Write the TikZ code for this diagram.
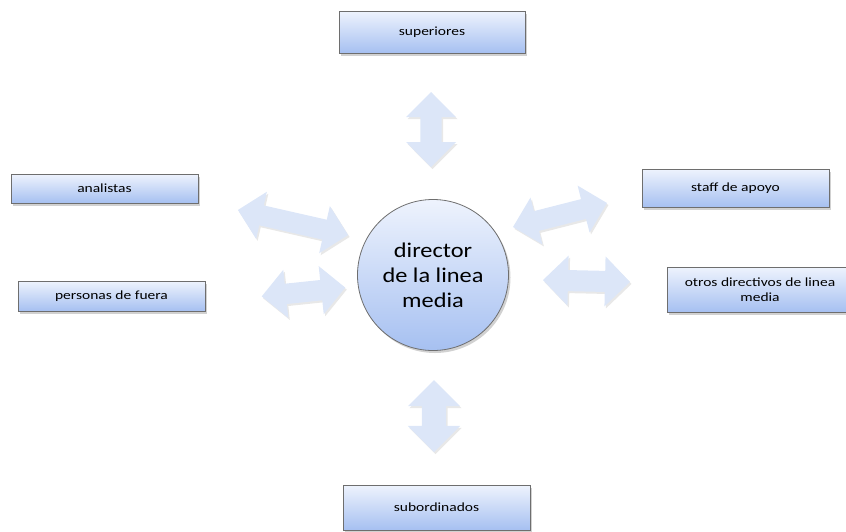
\documentclass[tikz,border=0pt]{standalone}
\usepackage{fontspec}
\setmainfont{Carlito}
\newfontfamily\widelabel[FakeStretch=1.24]{Carlito}
\newfontfamily\hublabel[FakeStretch=1.16]{Carlito}
\usetikzlibrary{shapes.arrows,shadows}

\definecolor{boxtop}{HTML}{EEF3FD}
\definecolor{boxbot}{HTML}{A6C0F1}
\definecolor{rimgray}{HTML}{6E6E6E}
\definecolor{arrowfill}{HTML}{DCE6F8}

\tikzset{
  softshadow/.style={drop shadow={shadow xshift=2pt, shadow yshift=-2.5pt, opacity=0.3, fill=black!60}},
  rolebox/.style={draw=rimgray, line width=0.7pt, top color=boxtop, bottom color=boxbot,
    font=\widelabel\fontsize{12.5}{15}\selectfont, align=center, inner sep=0pt, softshadow},
  hub/.style={circle, draw=rimgray, line width=0.8pt, top color=boxtop, bottom color=boxbot,
    font=\hublabel\fontsize{21}{25}\selectfont, align=center, inner sep=0pt, minimum size=151pt, softshadow},
  flow/.style={double arrow, fill=arrowfill, draw=none, inner sep=0pt, inner ysep=10pt,
    double arrow head extend=14pt, drop shadow={shadow xshift=1.5pt, shadow yshift=-2pt, opacity=0.18, fill=black!50}}
}

\begin{document}
\begin{tikzpicture}[x=1pt, y=-1pt]
  \useasboundingbox (0,0) rectangle (846,531);

  % central manager
  \node[hub] (dir) at (433,275) {director\\de la linea\\media};

  % surrounding roles
  \node[rolebox, minimum width=186pt, minimum height=42pt] (sup) at (432,32) {superiores};
  \node[rolebox, minimum width=187pt, minimum height=29pt] (ana) at (104.5,188.5) {analistas};
  \node[rolebox, minimum width=187pt, minimum height=30pt] (fue) at (111.5,296) {personas de fuera};
  \node[rolebox, minimum width=187pt, minimum height=38pt] (sta) at (735.5,188) {staff de apoyo};
  \node[rolebox, minimum width=186pt, minimum height=45pt] (otr) at (760,289.5) {otros directivos de linea\\media};
  \node[rolebox, minimum width=187pt, minimum height=45pt] (sub) at (436.5,507.5) {subordinados};

  % two-way exchanges
  \node[flow, minimum height=75pt, minimum width=50pt, rotate=90] (a1) at (431,129.5) {};
  \node[flow, minimum height=72pt, minimum width=50pt, inner ysep=12pt, rotate=90] (a2) at (434,416) {};
  \node[flow, minimum height=113pt, minimum width=48pt, rotate=-12.8] (a3) at (293,222.5) {};
  \node[flow, minimum height=84pt, minimum width=48pt, rotate=6] (a4) at (303.5,292) {};
  \node[flow, minimum height=97pt, minimum width=48pt, rotate=14.3] (a5) at (560,215) {};
  \node[flow, minimum height=87pt, minimum width=50pt, rotate=-1.3] (a6) at (586.5,281) {};
\end{tikzpicture}
\end{document}
